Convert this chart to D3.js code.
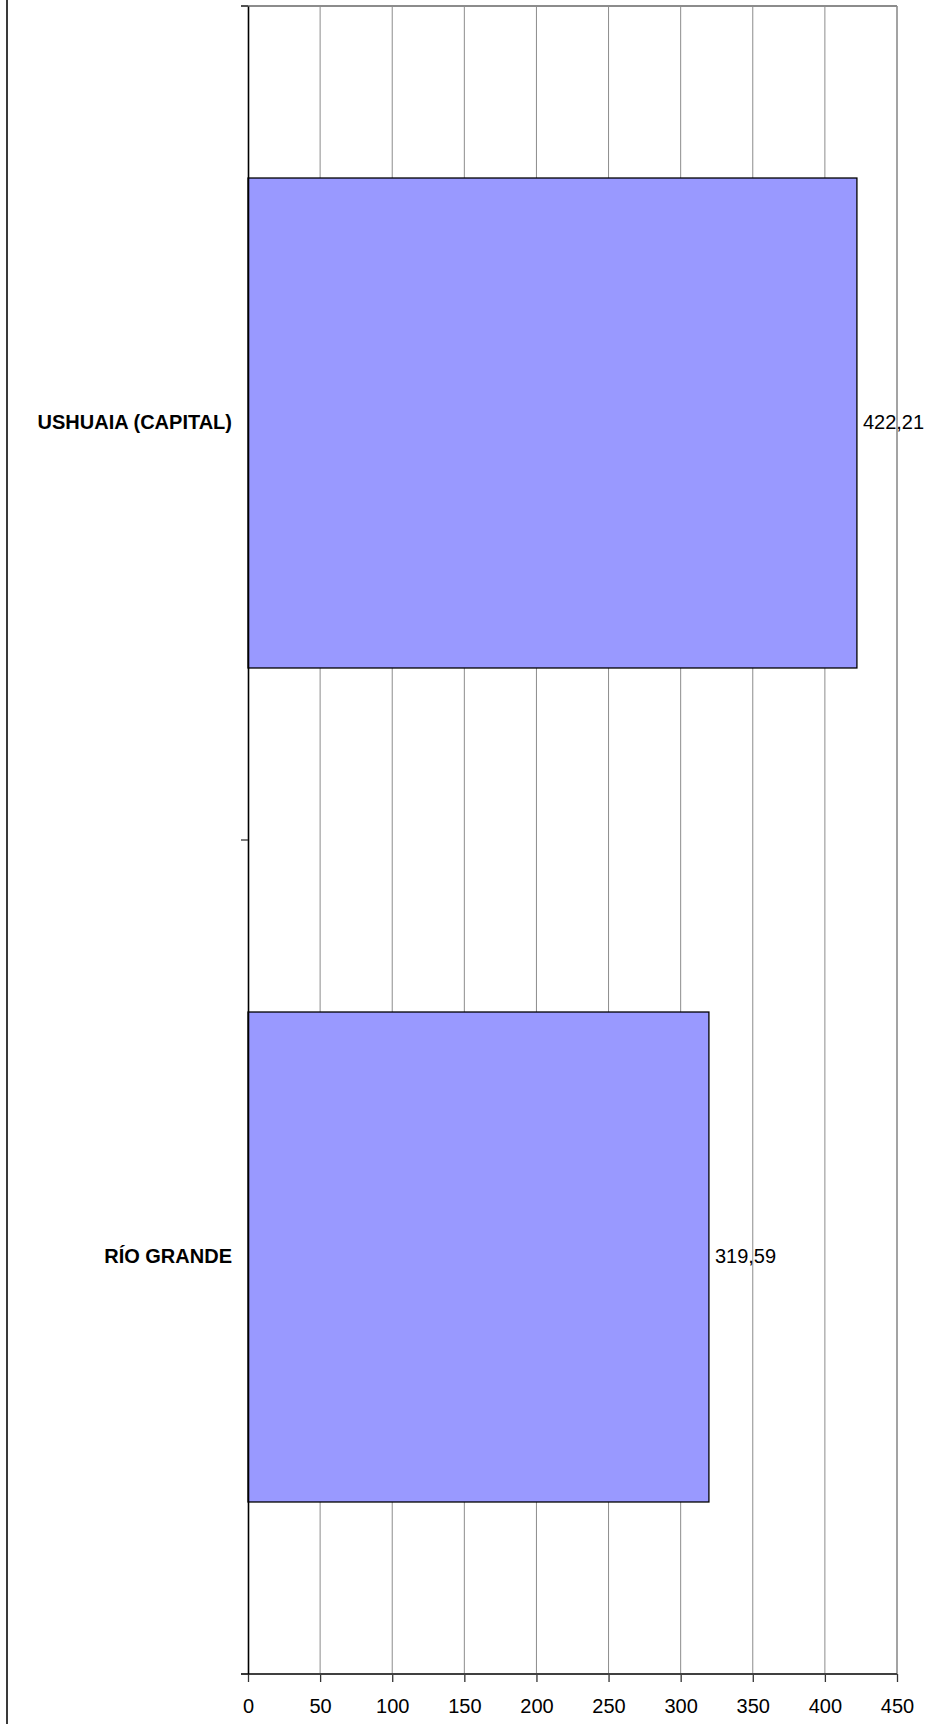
<!DOCTYPE html>
<html>
<head>
<meta charset="utf-8">
<script src="https://cdn.jsdelivr.net/npm/d3@7"></script>
<style>
  html, body { margin: 0; padding: 0; background: #fff; }
  svg { display: block; }
  text { font-family: "Liberation Sans", Arial, sans-serif; fill: #000; }
</style>
</head>
<body>
<div id="chart"></div>
<script>
const categories = ["USHUAIA (CAPITAL)", "RÍO GRANDE"];
const values = [422.21, 319.59];
const xTickValues = [0, 50, 100, 150, 200, 250, 300, 350, 400, 450];

(function () {
const W = 931, H = 1724;
const pLeft = 248, pRight = 897, pTop = 6, pBottom = 1674;

const svg = d3.select("#chart").append("svg")
  .attr("width", W).attr("height", H);

const x = d3.scaleLinear().domain([0, 450]).range([pLeft, pRight]);
const y = d3.scaleBand().domain(categories).range([pTop, pBottom])
  .paddingInner(0.4125).paddingOuter(0.20625);

// outer chart border (left edge visible)
svg.append("line")
  .attr("x1", 7).attr("x2", 7).attr("y1", 0).attr("y2", H)
  .attr("stroke", "#3a3a3a").attr("stroke-width", 2);

// gridlines
svg.append("g").selectAll("line")
  .data(xTickValues.filter(d => d > 0))
  .join("line")
  .attr("x1", d => x(d)).attr("x2", d => x(d))
  .attr("y1", pTop).attr("y2", pBottom)
  .attr("stroke", "#8c8c8c").attr("stroke-width", d => d === 450 ? 1.6 : 1);

// top border of plot area
svg.append("line")
  .attr("x1", pLeft - 7).attr("x2", pRight).attr("y1", pTop).attr("y2", pTop)
  .attr("stroke", "#8c8c8c").attr("stroke-width", 2);

// bars
svg.append("g").selectAll("rect")
  .data(categories)
  .join("rect")
  .attr("x", x(0))
  .attr("y", d => y(d))
  .attr("width", (d, i) => x(values[i]) - x(0))
  .attr("height", y.bandwidth())
  .attr("fill", "#9999FF")
  .attr("stroke", "#000")
  .attr("stroke-width", 1.3);

// value labels
const fmt = v => d3.format(".2f")(v).replace(".", ",");
svg.append("g").selectAll("text")
  .data(categories)
  .join("text")
  .attr("x", (d, i) => x(values[i]) + 6)
  .attr("y", d => y(d) + y.bandwidth() / 2)
  .attr("dy", "0.32em")
  .attr("font-size", 20)
  .text((d, i) => fmt(values[i]));

// x axis
const xAxis = svg.append("g")
  .attr("transform", `translate(0,${pBottom})`)
  .call(d3.axisBottom(x).tickValues(xTickValues).tickSize(8).tickPadding(17).tickSizeOuter(0));
xAxis.select(".domain").remove();
xAxis.selectAll(".tick line").attr("stroke", "#333").attr("stroke-width", 1.3);
xAxis.selectAll("text").attr("font-size", 20).attr("font-family", "Liberation Sans, Arial, sans-serif").attr("fill", "#000");
svg.append("line")
  .attr("x1", pLeft - 7).attr("x2", pRight).attr("y1", pBottom).attr("y2", pBottom)
  .attr("stroke", "#404040").attr("stroke-width", 2);

// y axis
const yAxis = svg.append("g")
  .attr("transform", `translate(${pLeft},0)`)
  .call(d3.axisLeft(y).tickSize(0).tickPadding(16));
yAxis.select(".domain").attr("stroke", "#000").attr("stroke-width", 1.6);
yAxis.selectAll("text")
  .attr("font-size", 20).attr("font-weight", "bold")
  .attr("font-family", "Liberation Sans, Arial, sans-serif").attr("fill", "#000");

// category boundary ticks
const boundaries = [pTop, ...categories.slice(1).map(c => y(c) - y.step() * y.paddingInner() / 2), pBottom];
svg.append("g").selectAll("line")
  .data(boundaries)
  .join("line")
  .attr("x1", pLeft - 7).attr("x2", pLeft)
  .attr("y1", d => d).attr("y2", d => d)
  .attr("stroke", "#333").attr("stroke-width", 1.3);
})();
</script>
</body>
</html>
